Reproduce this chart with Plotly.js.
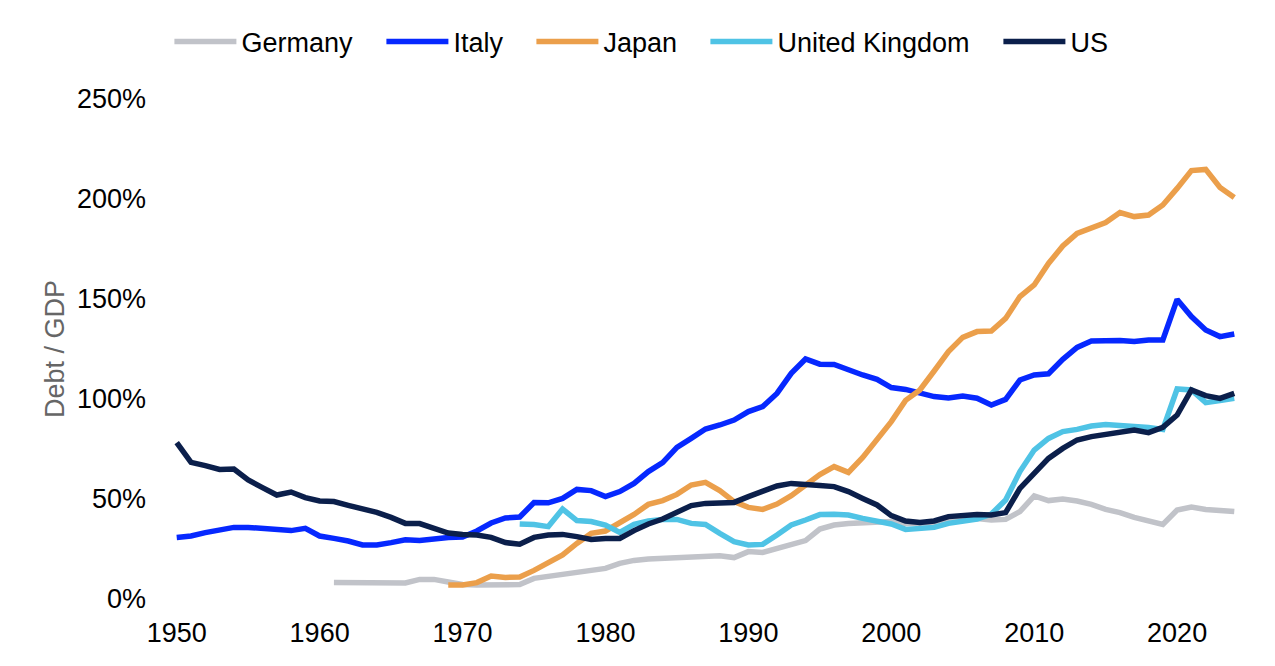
<!DOCTYPE html>
<html>
<head>
<meta charset="utf-8">
<script src="https://cdn.plot.ly/plotly-3.0.1.min.js"></script>
<style>
  html, body { margin: 0; padding: 0; background: #fff; }
  #chart { width: 1275px; height: 666px; }
</style>
</head>
<body>
<div id="chart"></div>
<script>
// Government debt as a share of GDP
const years = Array.from({ length: 75 }, (_, i) => 1950 + i);

const germanyStart = 1961;
const germany = [
  8.3, 8.3, 8.5, 8.3, 8.0, 8.0, 9.8, 9.8, 8.5,
  7.3, 7.0, 7.0, 7.0, 7.2, 10.3, 11.2, 12.0, 13.2, 14.0,
  15.3, 17.8, 19.3, 20.0, 20.3, 20.3, 20.6, 21.1, 21.6, 20.7,
  23.7, 23.3, 25.3, 27.5, 29.2, 35.0, 37.0, 37.8, 38.2, 38.7,
  38.7, 37.8, 37.6, 38.0, 39.2, 40.0, 40.3, 39.5, 39.8, 43.7,
  51.5, 49.2, 50.0, 49.0, 47.3, 44.8, 43.2, 40.8, 38.7, 37.3,
  44.5, 46.0, 44.8, 44.0, 43.7
];

const italyStart = 1950;
const italy = [
  30.8, 31.5, 33.2, 34.2, 35.8, 35.8, 35.2, 34.2, 34.2, 35.3,
  31.5, 30.3, 29.0, 27.0, 27.0, 28.2, 29.6, 29.2, 30.3, 30.8,
  31.0, 34.0, 38.0, 40.5, 41.0, 48.2, 48.1, 50.3, 54.8, 54.2,
  51.2, 53.7, 57.8, 63.7, 68.2, 75.8, 80.3, 85.0, 87.0, 89.5,
  93.7, 96.2, 102.8, 112.8, 120.0, 117.4, 117.3, 114.5, 112.0, 109.8,
  105.7, 104.8, 102.8, 101.2, 100.5, 101.5, 100.4, 97.0, 99.8, 109.5,
  112.0, 112.6, 119.8, 125.8, 129.0, 129.2, 129.2, 128.7, 129.5, 129.5,
  149.8, 141.2, 134.5, 131.2, 132.5
];

const japanStart = 1969;
const japan = [
  7.0,
  7.0, 8.2, 11.5, 10.8, 11.0, 14.3, 18.0, 22.0, 27.8, 32.8,
  34.0, 37.8, 42.3, 47.3, 49.2, 52.3, 57.0, 58.3, 54.2, 48.7,
  45.8, 44.8, 47.5, 51.7, 57.3, 62.2, 66.2, 63.3, 70.8, 79.5,
  88.7, 99.3, 104.5, 114.0, 123.7, 130.8, 133.7, 134.0, 140.3, 151.2,
  157.0, 167.8, 176.5, 182.8, 185.8, 188.2, 193.2, 191.2, 192.0, 197.0,
  205.3, 214.2, 214.8, 205.8, 200.7
];

const ukStart = 1974;
const uk = [
  37.5, 37.2, 36.2, 45.0, 39.2, 38.7,
  37.0, 33.3, 37.3, 39.0, 39.8, 39.8, 37.8, 37.3, 32.8, 28.7,
  27.0, 27.3, 32.0, 37.0, 39.5, 42.2, 42.4, 42.0, 40.3, 39.2,
  37.5, 34.8, 35.0, 35.8, 37.8, 39.2, 40.0, 42.5, 49.5, 63.7,
  74.5, 80.3, 83.7, 84.8, 86.5, 87.3, 87.0, 86.2, 85.8, 84.8,
  105.0, 104.5, 98.2, 99.2, 100.3
];

const usStart = 1950;
const us = [
  78.2, 68.3, 66.7, 64.8, 65.0, 59.5, 55.7, 52.0, 53.5, 50.7,
  49.0, 48.7, 46.8, 45.2, 43.3, 40.8, 37.8, 37.7, 35.7, 33.0,
  32.3, 32.0, 30.8, 28.2, 27.4, 30.8, 32.0, 32.3, 31.2, 29.8,
  30.3, 30.3, 34.2, 37.5, 40.0, 43.7, 46.7, 47.8, 48.2, 48.3,
  51.2, 54.2, 56.5, 57.8, 57.5, 56.8, 56.2, 53.7, 50.3, 47.0,
  41.7, 39.0, 38.3, 39.0, 41.2, 42.0, 42.3, 42.0, 43.2, 55.3,
  62.8, 70.3, 75.3, 79.5, 81.2, 82.3, 84.0, 84.5, 83.2, 85.8,
  92.0, 104.5, 101.7, 100.3, 102.8
];

const xTicks = [1950, 1960, 1970, 1980, 1990, 2000, 2010, 2020];
const yTicks = [0, 50, 100, 150, 200, 250];
const yTickText = ['0%', '50%', '100%', '150%', '200%', '250%'];

const font = '"Liberation Sans", Arial, sans-serif';
const M = { l: 171, r: 35, t: 99, b: 67 };
const plotW = 1275 - M.l - M.r;

// one legend per country so the entries sit where the reference has them
const legendLeft = [169.4, 381.4, 531.4, 705.4, 998.4];

function series(name, start, values, color, legendId) {
    const from = years.indexOf(start);
    return {
        x: years.slice(from, from + values.length),
        y: values,
        type: 'scatter',
        mode: 'lines',
        name: name,
        legend: legendId,
        line: { color: color, width: 5.5, shape: 'linear' },
        hoverinfo: 'x+y+name'
    };
}

const traces = [
    series('Germany', germanyStart, germany, '#c1c3c9', 'legend'),
    series('Italy', italyStart, italy, '#0628ff', 'legend2'),
    series('Japan', japanStart, japan, '#eb9f4b', 'legend3'),
    series('United Kingdom', ukStart, uk, '#4fc3e5', 'legend4'),
    series('US', usStart, us, '#0b1f4b', 'legend5')
];

function legendAt(px) {
    return {
        orientation: 'h',
        x: (px - M.l) / plotW,
        xanchor: 'left',
        y: 1 + (M.t - 42) / 500,
        yanchor: 'middle',
        itemwidth: 62,
        font: { family: font, size: 27, color: '#000000' },
        bgcolor: 'rgba(0,0,0,0)'
    };
}

const layout = {
    width: 1275,
    height: 666,
    paper_bgcolor: '#ffffff',
    plot_bgcolor: '#ffffff',
    margin: { l: M.l, r: M.r, t: M.t, b: M.b, autoexpand: false },
    font: { family: font, size: 27, color: '#000000' },
    showlegend: true,
    legend: legendAt(legendLeft[0]),
    legend2: legendAt(legendLeft[1]),
    legend3: legendAt(legendLeft[2]),
    legend4: legendAt(legendLeft[3]),
    legend5: legendAt(legendLeft[4]),
    xaxis: {
        range: [1949.6, 2024.4],
        tickvals: xTicks,
        ticktext: xTicks.map(String),
        showgrid: false,
        zeroline: false,
        showline: false,
        ticks: '',
        ticklabelstandoff: 15,
        tickfont: { family: font, size: 27, color: '#000000' }
    },
    yaxis: {
        range: [0, 250],
        tickvals: yTicks,
        ticktext: yTickText,
        showgrid: false,
        zeroline: false,
        showline: false,
        ticks: '',
        ticklabelstandoff: 24,
        tickfont: { family: font, size: 27, color: '#000000' },
        title: {
            text: 'Debt / GDP',
            standoff: 4,
            font: { family: font, size: 27, color: '#666666' }
        }
    }
};

Plotly.newPlot('chart', traces, layout, { displayModeBar: false, staticPlot: true });
</script>
</body>
</html>
